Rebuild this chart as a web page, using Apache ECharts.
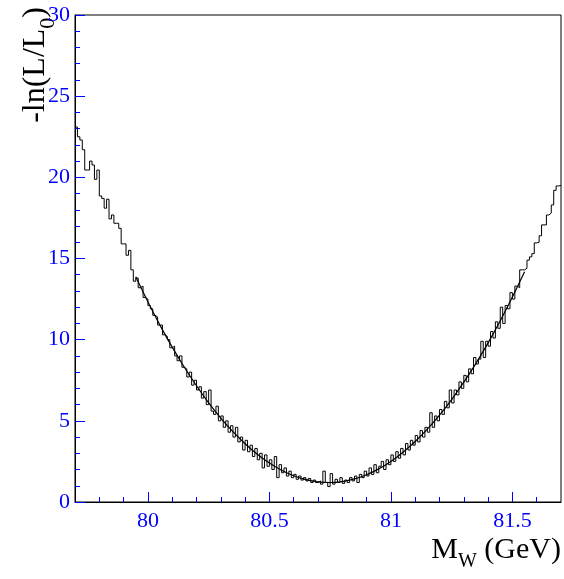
<!DOCTYPE html>
<html>
<head>
<meta charset="utf-8">
<script src="https://cdn.jsdelivr.net/npm/echarts@6/dist/echarts.min.js"></script>
<style>
  html, body { margin: 0; padding: 0; background: #fff; }
  #chart { width: 564px; height: 579px; }
</style>
</head>
<body>
<div id="chart"></div>
<script>
// histogram: 200 bins of 0.01 GeV starting at 79.7
var binLow = 79.7;
var binWidth = 0.01;
var histValues = [
  23.1, 22.5, 22.3, 21.7, 20.45, 20.45, 21.0, 20.76, 19.88, 20.45,
  18.85, 18.7, 18.1, 18.65, 17.44, 17.68, 17.17, 17.17, 16.86, 15.9,
  15.9, 15.2, 15.5, 14.3, 13.6, 13.8, 13.2, 13.3, 12.6, 12.5,
  12.1, 11.9, 11.5, 11.4, 10.9, 10.9, 10.3, 10.2, 10.0, 9.5,
  9.6, 9.0, 8.7, 9.0, 8.3, 8.2, 7.7, 8.0, 7.2, 7.5,
  6.9, 7.1, 6.4, 6.8, 6.0, 6.9, 5.6, 5.4, 5.9, 5.0,
  5.3, 4.6, 5.0, 4.3, 4.7, 4.0, 4.6, 3.7, 4.0, 3.2,
  3.8, 3.1, 3.5, 2.8, 3.3, 2.6, 3.0, 2.1, 2.9, 2.2,
  2.6, 2.0, 2.8, 1.5, 2.3, 1.8, 2.1, 1.6, 1.9, 1.5,
  1.7, 1.4, 1.6, 1.35, 1.5, 1.3, 1.45, 1.2, 1.35, 1.2,
  1.3, 1.1, 1.9, 1.2, 0.95, 1.75, 1.1, 1.4, 1.2, 1.5,
  1.15, 1.35, 1.2, 1.5, 1.3, 1.6, 1.2, 1.7, 1.5, 1.9,
  1.6, 2.1, 1.7, 2.3, 1.8, 2.2, 2.5, 2.0, 2.6, 2.3,
  2.9, 2.5, 3.1, 2.7, 3.3, 2.9, 3.6, 3.2, 3.8, 3.5,
  4.1, 3.7, 4.4, 4.0, 4.6, 4.3, 5.5, 4.6, 5.3, 5.0,
  5.7, 5.4, 6.2, 5.8, 6.9, 6.1, 6.9, 6.6, 7.4, 7.0,
  7.8, 7.4, 8.2, 7.9, 8.9, 8.5, 8.8, 9.9, 8.9, 9.9,
  9.6, 10.5, 10.1, 11.1, 10.7, 12.0, 11.0, 12.1, 11.9, 12.9,
  12.5, 13.3, 13.2, 14.3, 14.3, 14.4, 14.9, 15.1, 15.3, 15.96,
  16.0, 16.4, 17.07, 17.07, 17.68, 17.8, 18.3, 19.2, 19.47, 19.5
];

// fitted curve, every 0.05 GeV
var fitMass = [
  79.95, 80.00, 80.05, 80.10, 80.15, 80.20, 80.25, 80.30, 80.35, 80.40, 80.45,
  80.50, 80.55, 80.60, 80.65, 80.70, 80.75, 80.80, 80.85, 80.90, 80.95,
  81.00, 81.05, 81.10, 81.15, 81.20, 81.25, 81.30, 81.35, 81.40, 81.45, 81.50, 81.55
];
var fitValues = [
  13.87, 12.33, 10.88, 9.54, 8.30, 7.16, 6.11, 5.17, 4.33, 3.59, 2.94,
  2.40, 1.96, 1.62, 1.38, 1.24, 1.20, 1.26, 1.42, 1.68, 2.04,
  2.50, 3.07, 3.73, 4.49, 5.35, 6.31, 7.38, 8.54, 9.80, 11.17, 12.63, 14.19
];

var xMajorTicks = [80, 80.5, 81, 81.5];
var xMinorTicks = [79.8, 79.9, 80.1, 80.2, 80.3, 80.4, 80.6, 80.7, 80.8, 80.9,
                   81.1, 81.2, 81.3, 81.4, 81.6];

var blue = "#0000ff";
var serif = "'Liberation Serif', 'DejaVu Serif', serif";

var histData = histValues.map(function (v, i) {
  return [+(binLow + i * binWidth).toFixed(3), v];
});
// close the last bin at its upper edge
histData.push([+(binLow + histValues.length * binWidth).toFixed(3), histValues[histValues.length - 1]]);

var fitData = fitMass.map(function (m, i) { return [m, fitValues[i]]; });

var myChart = echarts.init(document.getElementById("chart"));
var option = {
  backgroundColor: "#fff",
  animation: false,
  grid: {
    left: 75,
    right: 3,
    top: 15,
    bottom: 77,
    show: true,
    borderColor: "#000",
    borderWidth: 1,
    backgroundColor: "transparent"
  },
  xAxis: [
    {
      type: "value",
      min: 79.7,
      max: 81.7,
      axisLine: { show: true, lineStyle: { color: "#000", width: 1 } },
      axisTick: {
        show: true,
        inside: true,
        length: 10,
        customValues: xMajorTicks,
        lineStyle: { color: blue, width: 1 }
      },
      axisLabel: {
        customValues: xMajorTicks,
        color: blue,
        fontFamily: serif,
        fontSize: 22,
        margin: 8
      },
      splitLine: { show: false }
    },
    {
      // minor ticks every 0.1 GeV
      type: "value",
      min: 79.7,
      max: 81.7,
      position: "bottom",
      axisLine: { show: false },
      axisTick: {
        show: true,
        inside: true,
        length: 5,
        customValues: xMinorTicks,
        lineStyle: { color: blue, width: 1 }
      },
      axisLabel: { show: false },
      splitLine: { show: false }
    }
  ],
  yAxis: {
    type: "value",
    min: 0,
    max: 30,
    interval: 5,
    axisLine: { show: true, lineStyle: { color: "#000", width: 1 } },
    axisTick: {
      show: true,
      inside: true,
      length: 10,
      lineStyle: { color: blue, width: 1 }
    },
    minorTick: {
      show: true,
      splitNumber: 5,
      length: 5,
      lineStyle: { color: blue, width: 1 }
    },
    axisLabel: {
      color: blue,
      fontFamily: serif,
      fontSize: 22,
      margin: 5
    },
    splitLine: { show: false }
  },
  graphic: [
    {
      type: "text",
      x: 20,
      y: 7,
      rotation: Math.PI / 2,
      style: {
        text: "{m|-ln(L/L}{s|0}{m|)}",
        align: "right",
        verticalAlign: "top",
        rich: {
          m: { fontFamily: serif, fontSize: 32, lineHeight: 32, verticalAlign: "top", fill: "#000" },
          s: { fontFamily: serif, fontSize: 22, lineHeight: 22, padding: [17, 0, 0, 0], verticalAlign: "top", fill: "#000" }
        }
      }
    },
    {
      type: "text",
      x: 561,
      y: 535,
      style: {
        text: "{m|M}{s|W}{m| (GeV)}",
        align: "right",
        verticalAlign: "top",
        rich: {
          m: { fontFamily: serif, fontSize: 30, lineHeight: 30, verticalAlign: "top", fill: "#000" },
          s: { fontFamily: serif, fontSize: 20, lineHeight: 20, padding: [17, 0, 0, 0], verticalAlign: "top", fill: "#000" }
        }
      }
    }
  ],
  series: [
    {
      name: "scan",
      type: "line",
      step: "end",
      showSymbol: false,
      data: histData,
      lineStyle: { color: "#000", width: 1 },
      z: 3
    },
    {
      name: "fit",
      type: "line",
      smooth: 0.3,
      showSymbol: false,
      data: fitData,
      lineStyle: { color: "#000", width: 1.2 },
      z: 4
    }
  ]
};
myChart.setOption(option);
</script>
</body>
</html>
